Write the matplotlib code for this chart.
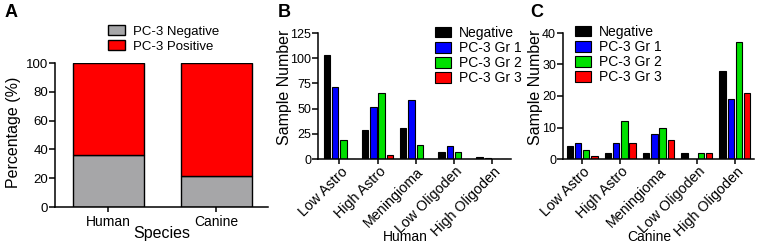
import matplotlib
matplotlib.use("Agg")
import matplotlib.pyplot as plt
import numpy as np
from matplotlib.patches import Patch
from matplotlib.transforms import ScaledTranslation

plt.rcParams['font.family'] = ['Liberation Sans', 'DejaVu Sans']

# ---------------- data ----------------
species = ["Human", "Canine"]
pc3_negative_pct = [36.0, 21.6]
pc3_positive_pct = [64.0, 78.4]

tumor_types = ["Low Astro", "High Astro", "Meningioma", "Low Oligoden", "High Oligoden"]
groups = ["Negative", "PC-3 Gr 1", "PC-3 Gr 2", "PC-3 Gr 3"]

human_negative = [103, 29, 31, 7, 2]
human_gr1 = [71, 52, 59, 13, 1]
human_gr2 = [19, 65, 14, 7, 0]
human_gr3 = [0, 4, 0, 0, 0]

canine_negative = [4, 2, 2, 2, 28]
canine_gr1 = [5, 5, 8, 0, 19]
canine_gr2 = [3, 12, 10, 2, 37]
canine_gr3 = [1, 5, 6, 2, 21]

group_colors = ["#000000", "#0000ff", "#00e000", "#ff0000"]
grey = "#a6a6a8"
red = "#ff0000"

W, H = 760, 252
fig = plt.figure(figsize=(W / 100, H / 100), dpi=100)


def px_axes(x0, x1, ytop, ybot):
    return fig.add_axes([x0 / W, 1 - ybot / H, (x1 - x0) / W, (ybot - ytop) / H])


def style(ax):
    for s in ("top", "right"):
        ax.spines[s].set_visible(False)
    for s in ("left", "bottom"):
        ax.spines[s].set_linewidth(1.1)
    ax.tick_params(axis="both", width=1.1, labelsize=9)
    ax.tick_params(axis="y", length=4, pad=1)
    ax.tick_params(axis="x", length=3.5)


# ---------------- panel A ----------------
axA = px_axes(55, 268, 63, 207)
xA = np.arange(len(species))
axA.bar(xA, pc3_negative_pct, width=0.66, color=grey, edgecolor="black", linewidth=1.0,
        label="PC-3 Negative")
axA.bar(xA, pc3_positive_pct, bottom=pc3_negative_pct, width=0.66, color=red,
        edgecolor="black", linewidth=1.0, label="PC-3 Positive")
axA.set_xlim(-0.495, 1.48)
axA.set_ylim(0, 100)
axA.set_yticks(np.arange(0, 101, 20))
axA.set_xticks(xA)
axA.set_xticklabels(species)
style(axA)
axA.tick_params(axis="y", labelsize=9.5)
axA.tick_params(axis="x", pad=2, labelsize=10)
axA.set_xlabel("Species", fontsize=11.5)
axA.xaxis.set_label_coords(0.5, -0.135)
axA.set_ylabel("Percentage (%)", fontsize=11.5)
axA.yaxis.set_label_coords(-0.16, 0.517)
axA.legend(loc="upper left", bbox_to_anchor=(108 / W, 1 - 25 / H), bbox_transform=fig.transFigure,
           frameon=False, fontsize=9.5, borderpad=0, borderaxespad=0, handlelength=1.3,
           handleheight=0.8, handletextpad=0.6, labelspacing=0.2)


def grouped(ax, series, xmin, ytop, yticks, xlabel, label_x, ylabel_x, legend_xy):
    x = np.arange(len(tumor_types))
    stride = 0.215
    for i, (vals, col, name) in enumerate(zip(series, group_colors, groups)):
        ax.bar(x + (i - 1.5) * stride, vals, width=0.165, color=col, edgecolor="black",
               linewidth=0.8, label=name)
    ax.set_xlim(xmin, 4.5)
    ax.set_ylim(0, ytop)
    ax.set_yticks(yticks)
    ax.set_xticks(x)
    style(ax)
    ax.set_xticklabels(tumor_types, rotation=45, ha="right", va="center",
                       rotation_mode="anchor", fontsize=10.3)
    ax.tick_params(axis="x", pad=4)
    offset = ScaledTranslation(6 / 100, 0, fig.dpi_scale_trans)
    for lab in ax.xaxis.get_majorticklabels():
        lab.set_transform(lab.get_transform() + offset)
    ax.set_xlabel(xlabel, fontsize=10)
    ax.xaxis.set_label_coords(label_x, -0.56)
    ax.set_ylabel("Sample Number", fontsize=11.5)
    ax.yaxis.set_label_coords(ylabel_x, 0.567)
    handles = [Patch(facecolor=c, edgecolor="black", linewidth=0.8) for c in group_colors]
    ax.legend(handles, groups, loc="upper left", bbox_to_anchor=legend_xy,
              bbox_transform=fig.transFigure, frameon=False, fontsize=10, borderpad=0,
              borderaxespad=0, handlelength=1.15, handleheight=0.8, handletextpad=0.55,
              labelspacing=0.08)


# ---------------- panel B ----------------
axB = px_axes(318, 511, 33, 159)
grouped(axB, [human_negative, human_gr1, human_gr2, human_gr3], -0.56, 125,
        np.arange(0, 126, 25), "Human", 0.45, -0.135, (435 / W, 1 - 26 / H))

# ---------------- panel C ----------------
axC = px_axes(563, 754, 33, 159)
grouped(axC, [canine_negative, canine_gr1, canine_gr2, canine_gr3], -0.5, 40,
        np.arange(0, 41, 10), "Canine", 0.45, -0.105, (575 / W, 1 - 25 / H))

# panel letters
for lx, letter in [(5, "A"), (278, "B"), (530, "C")]:
    fig.text(lx / W, 1 - 17 / H, letter, fontsize=13, fontweight="bold", va="baseline")

fig.savefig("out.png", dpi=100)
